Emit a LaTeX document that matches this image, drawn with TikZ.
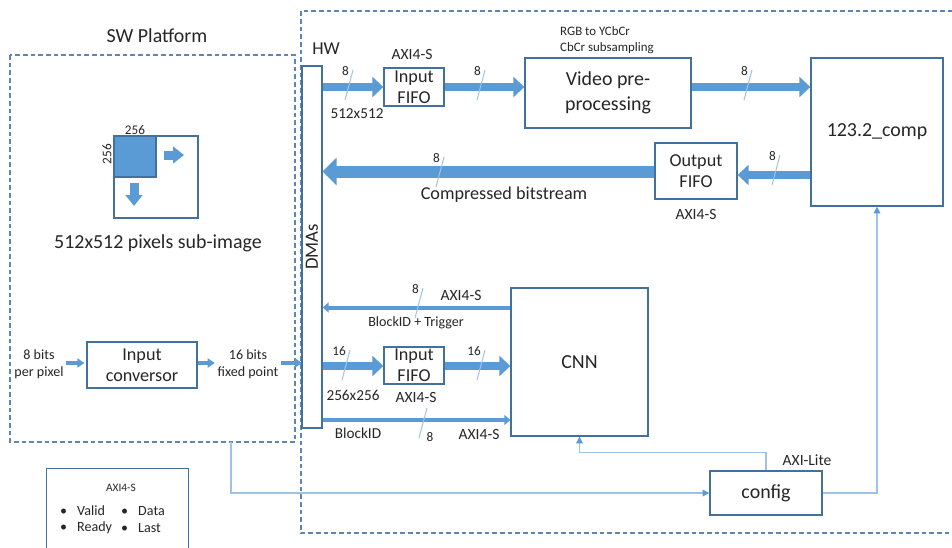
\documentclass[tikz,border=0pt]{standalone}
\usepackage{fontspec}
\setmainfont{Carlito}
\usetikzlibrary{arrows.meta,calc}

\definecolor{boxblue}{HTML}{41719C}
\definecolor{arrblue}{HTML}{5B9BD5}
\definecolor{lineblue}{HTML}{9DC3E6}
\definecolor{dashblue}{HTML}{5B86B5}
\definecolor{txt}{HTML}{262626}

\newcommand{\fnt}[2]{\fontsize{#1}{#2}\selectfont}

\tikzset{
  box/.style={draw=boxblue, line width=0.04cm, fill=white, align=center, inner sep=0pt, text=txt, font=\fnt{15.5}{18}},
  hd/.style={inner sep=0pt, text=txt, align=center, font=\fnt{17}{21}},
  lbl/.style={inner sep=0pt, text=txt, align=center, font=\fnt{13.3}{15}},
  note/.style={inner sep=0pt, text=txt, align=center, font=\fnt{12}{14.5}},
  num/.style={inner sep=0pt, text=txt, font=\fnt{11.3}{13}},
  small/.style={inner sep=0pt, text=txt, align=left, font=\fnt{11}{13.6}},
  region/.style={dashblue, line width=0.04cm, dash pattern=on 0.14cm off 0.09cm},
  bus/.style={arrblue, line width=0.24cm, -{Triangle[length=0.33cm,width=0.6cm]}},
  widebus/.style={arrblue, line width=0.36cm, -{Triangle[length=0.42cm,width=0.81cm]}},
  thinbus/.style={arrblue, line width=0.12cm, -{Triangle[length=0.18cm,width=0.3cm]}},
  stub/.style={arrblue, line width=0.135cm, -{Triangle[length=0.21cm,width=0.27cm]}},
  blockarr/.style={arrblue, line width=0.27cm, -{Triangle[length=0.33cm,width=0.5cm]}},
  link/.style={lineblue, line width=0.035cm, -{Triangle[length=0.2cm,width=0.2cm,color=arrblue]}},
  slash/.style={lineblue, line width=0.03cm},
}

% bus width mark: name, x, y (top of the slash), width text
\newcommand{\buswd}[4]{%
  \draw[slash] (#2,#3) -- ++(-8,30);
  \node[num, anchor=east] (#1) at ($(#2,#3)+(-4,1)$) {#4};
}

\begin{document}
\begin{tikzpicture}[x=0.03cm,y=-0.03cm]
\useasboundingbox (0,0) rectangle (952,547);

% Platform regions
\draw[region] (10,55) rectangle (295,442);
\draw[region] (960,11) -- (301,11) -- (301,533) -- (960,533);
\node[hd] (swlbl) at (157,36) {SW Platform};
\node[box, draw=none, fill=none] (hwlbl) at (326,49) {HW};

% SW side: sub-image sketch
\draw[boxblue, line width=0.04cm] (114,136) rectangle (198,218);
\filldraw[fill=arrblue, draw=boxblue, line width=0.04cm] (114,136) rectangle (156,177);
\draw[blockarr] (164,155) -- (184,155);
\draw[blockarr] (134,183) -- (134,206);
\node[num] (toplen) at (135,130) {256};
\node[num, rotate=90] (sidelen) at (107,154) {256};
\node[hd] (subimg) at (158,243) {512x512 pixels sub-image};

% SW side: input conversion
\node[box, minimum width=3.3cm, minimum height=1.38cm] (conv) at (142,365) {Input\\conversor};
\node[note] (bpp) at (39,364) {8 bits\\per pixel};
\node[note] (fxp) at (248,364) {16 bits\\fixed point};
\draw[stub, shorten <=0.06cm, shorten >=0.06cm] (bpp.east |- 0,363) -- (conv.west |- 0,363);
\draw[stub, shorten >=0.08cm] (conv.east |- 0,363) -- (fxp.west |- 0,363);
\draw[stub, shorten <=0.06cm] (fxp.east |- 0,363) -- (302,363);

% HW blocks
\node[box, minimum width=0.6cm, minimum height=10.86cm] (dma) at (312,247) {};
\node[box, draw=none, fill=none, rotate=90, font=\fnt{16}{18}] (dmatxt) at (312,247) {DMAs};
\node[box, minimum width=1.8cm, minimum height=1.14cm] (fifoin) at (414,87) {Input\\FIFO};
\node[box, minimum width=4.98cm, minimum height=2.1cm, font=\fnt{17}{21}] (video) at (608,93) {Video pre-\\processing};
\node[box, minimum width=3.96cm, minimum height=4.44cm, font=\fnt{17}{21}] (comp) at (877,132) {123.2\_comp};
\node[box, minimum width=2.46cm, minimum height=1.68cm] (fifoout) at (696,171) {Output\\FIFO};
\node[box, minimum width=4.11cm, minimum height=4.44cm, font=\fnt{17}{21}] (cnn) at (579.5,362) {CNN};
\node[box, minimum width=1.8cm, minimum height=1.11cm] (fifocnn) at (414,365.5) {Input\\FIFO};
\node[box, minimum width=3.36cm, minimum height=1.32cm, font=\fnt{17}{21}] (config) at (766,493) {config};

% Video path
\draw[bus] (dma.east |- 0,87) -- (fifoin.west |- 0,87);
\draw[bus] (fifoin.east |- 0,87) -- (video.west |- 0,87);
\draw[bus] (video.east |- 0,87) -- (comp.west |- 0,87);
\draw[bus] (comp.west |- 0,175) -- (fifoout.east |- 0,175);
\draw[widebus] (fifoout.west |- 0,171.5) -- (dma.east |- 0,171.5);
\buswd{w1}{353}{70}{8}
\buswd{w2}{485}{70}{8}
\buswd{w3}{752}{70}{8}
\buswd{w4}{780}{155}{8}
\buswd{w5}{444}{157}{8}
\node[lbl] (axiin) at (412,54) {AXI4-S};
\node[lbl, font=\fnt{13}{15}] (res1) at (357,114) {512x512};
\node[small] (rgb) at (560,40) [anchor=west] {RGB to YCbCr\\CbCr subsampling};
\node[lbl] (axiout) at (696,214) {AXI4-S};
\node[lbl, font=\fnt{15.5}{18}] (bits) at (504,195) {Compressed bitstream};

% CNN path
\draw[thinbus] (cnn.west |- 0,307.5) -- (dma.east |- 0,307.5);
\draw[bus] (dma.east |- 0,366) -- (fifocnn.west |- 0,366);
\draw[bus] (fifocnn.east |- 0,366) -- (cnn.west |- 0,366);
\draw[thinbus] (dma.east |- 0,420) -- (cnn.west |- 0,420);
\buswd{w6}{423}{288}{8}
\buswd{w7}{350}{350}{16}
\buswd{w8}{485}{350}{16}
\draw[slash] (427,408) -- ++(-8,30);
\node[num] (w9) at (430,437) {8};
\node[lbl] (axitrig) at (461,295) {AXI4-S};
\node[note] (trig) at (416,323) {BlockID + Trigger};
\node[lbl, font=\fnt{13}{15}] (res2) at (353,395) {256x256};
\node[lbl] (axicnn) at (416,397) {AXI4-S};
\node[lbl, font=\fnt{13}{15}] (blk) at (358,433) {BlockID};
\node[lbl] (axiblk) at (479,434) {AXI4-S};

% Configuration
\coordinate (swout) at (231,442);
\draw[link] (swout) |- (config.west);
\draw[link] (config.north) -- ++(0,-18) -| (cnn.south);
\draw[link] (config.east) -| (comp.south);
\node[lbl] (axilite) at (807,460) {AXI-Lite};

% Legend
\node[box, anchor=north west, minimum width=4.26cm, minimum height=2.8cm] (legend) at (46,468) {};
\node[num, font=\fnt{9.7}{12}] (legtitle) at (121,488) {AXI4-S};
\node[note, anchor=west] (lv) at (60,511) {\textbullet\hspace{0.3cm}Valid};
\node[note, anchor=west] (lr) at (60,528) {\textbullet\hspace{0.3cm}Ready};
\node[note, anchor=west] (ld) at (121,511) {\textbullet\hspace{0.3cm}Data};
\node[note, anchor=west] (ll) at (121,528) {\textbullet\hspace{0.3cm}Last};

\end{tikzpicture}
\end{document}
